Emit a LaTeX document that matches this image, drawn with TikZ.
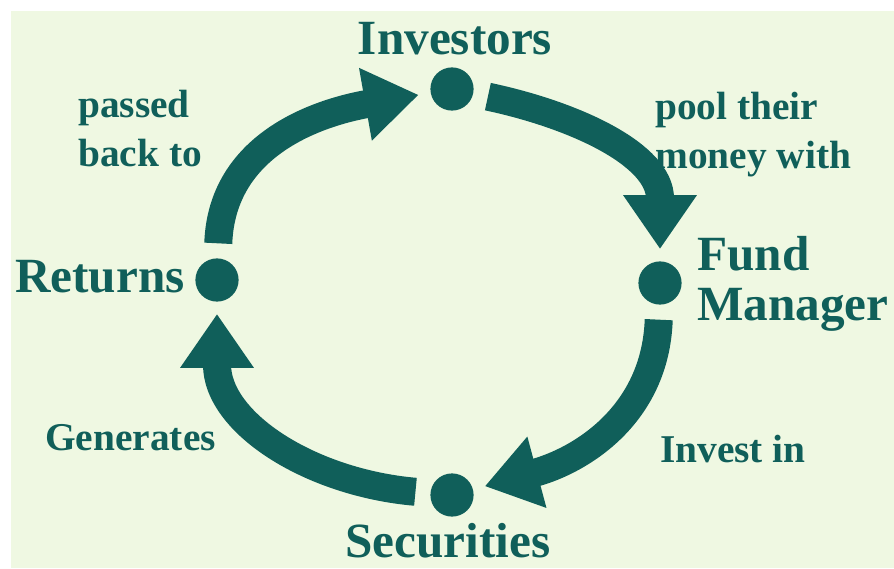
\documentclass[tikz,border=0pt]{standalone}
\usepackage{fontspec}
\setmainfont{Liberation Serif}
\usetikzlibrary{arrows.meta}

\definecolor{cycteal}{HTML}{105F5A}
\definecolor{cycback}{HTML}{EFF8E2}

\tikzset{
  dot/.style = {circle, fill=cycteal, minimum size=1.08cm, inner sep=0pt},
  flow/.style = {cycteal, line width=0.7cm, -{Triangle[length=1.35cm, width=1.75cm]},
                 shorten <=0.37cm, shorten >=0.3cm, looseness=1.08},
  bigtxt/.style = {text=cycteal, inner sep=0pt, align=left, font=\bfseries\fontsize{35}{35.5}\selectfont},
  smalltxt/.style = {text=cycteal, inner sep=0pt, align=left, font=\bfseries\fontsize{28}{35}\selectfont}
}

\begin{document}
\begin{tikzpicture}[x=0.025cm, y=0.025cm]
% backdrop
\fill[white] (0,0) rectangle (894,568);
\fill[cycback] (11,0) rectangle (894,557);

% the four stations
\node[dot] (inv) at (452,479) {};
\node[dot] (fund) at (660,285) {};
\node[dot] (sec) at (452,73) {};
\node[dot] (ret) at (217,288) {};

% the cycle
\draw[flow] (ret) to[out=88, in=190] (inv);
\draw[flow] (inv) to[out=-12, in=90] (fund);
\draw[flow] (fund) to[out=-92, in=15] (sec);
\draw[flow] (sec) to[out=175, in=-90] (ret);

% names
\node[bigtxt, anchor=base] (invname) at (455,513) {Investors};
\node[bigtxt, anchor=west] (fundname) at (697,284) {Fund\\Manager};
\node[bigtxt, anchor=base] (secname) at (448,11) {Securities};
\node[bigtxt, anchor=base east] (retname) at (185,276) {Returns};

% steps
\node[smalltxt, anchor=north west] (passlbl) at (78,478) {passed\\back to};
\node[smalltxt, anchor=north west] (poollbl) at (655,476) {pool their\\money with};
\node[smalltxt, anchor=base west] (genlbl) at (45,118) {Generates};
\node[smalltxt, anchor=base west] (invlbl) at (660,106) {Invest in};
\end{tikzpicture}
\end{document}
